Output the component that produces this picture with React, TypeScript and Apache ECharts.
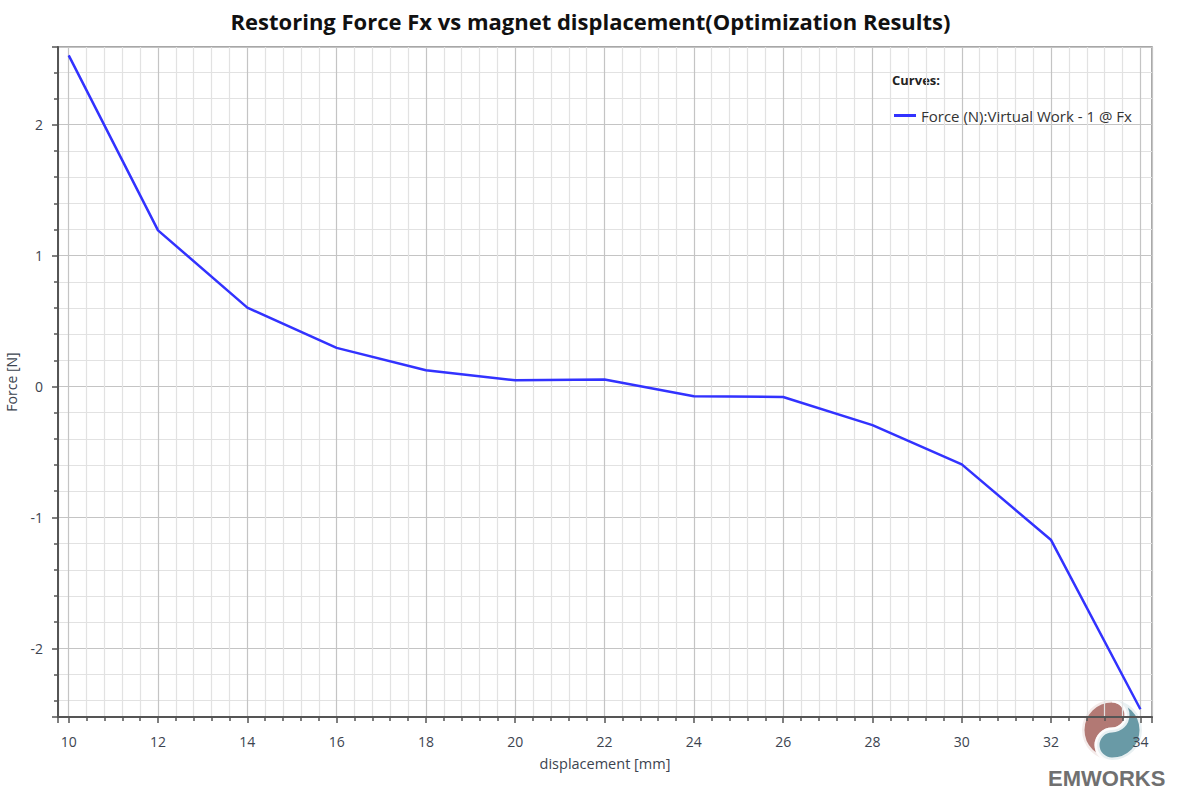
import React, { useEffect, useRef } from "react";
import * as echarts from "echarts";

const titleText = "Restoring Force Fx vs magnet displacement(Optimization Results)";
const seriesName = "Force (N):Virtual Work - 1 @ Fx";
const displacement = [10, 12, 14, 16, 18, 20, 22, 24, 26, 28, 30, 32, 34];
const force = [2.53, 1.193, 0.603, 0.295, 0.124, 0.048, 0.053, -0.074, -0.08, -0.295, -0.595, -1.173, -2.466];
const xAxisName = "displacement [mm]";
const yAxisName = "Force [N]";
const legendTitle = "Curves:";
const logoText = "EMWORKS";

echarts.graphic.registerShape(
  "logoRed",
  echarts.graphic.extendPath("M 0,-30 A 30 30 0 0 0 0,30 A 15 15 0 0 1 0,0 A 15 15 0 0 0 0,-30 Z", {})
);
echarts.graphic.registerShape(
  "logoTeal",
  echarts.graphic.extendPath("M 0,30 A 30 30 0 0 0 0,-30 A 15 15 0 0 1 0,0 A 15 15 0 0 0 0,30 Z", {})
);

export default function App() {
  const ref = useRef<HTMLDivElement>(null);
  useEffect(() => {
    if (!ref.current) return;
    const chart = echarts.init(ref.current, null, { renderer: "svg" });
    const font = "'Open Sans', 'Noto Sans', sans-serif";
    const labelColor = "#3c4450";
    chart.setOption({
      animation: false,
      backgroundColor: "#ffffff",
      textStyle: { fontFamily: font },
      title: {
        text: titleText,
        left: "center",
        top: 5,
        textStyle: { fontFamily: font, fontSize: 22, fontWeight: "bold", color: "#111" },
      },
      grid: {
        left: 58,
        top: 47,
        right: 29,
        bottom: 77,
        outerBoundsMode: "none",
        containLabel: false,
        show: true,
        borderColor: "#8a8a8a",
        borderWidth: 1.5,
        backgroundColor: "#ffffff",
      },
      legend: {
        show: true,
        data: [{ name: seriesName, icon: "rect" }],
        left: 889,
        top: 103,
        itemWidth: 22,
        itemHeight: 3,
        itemGap: 6,
        textStyle: { fontFamily: font, fontSize: 15, color: "#333" },
      },
      xAxis: {
        type: "value",
        min: 9.76,
        max: 34.26,
        splitNumber: 12,
        name: xAxisName,
        nameLocation: "middle",
        nameGap: 39,
        nameTextStyle: { fontFamily: font, fontSize: 14.5, color: labelColor },
        axisLine: { show: true, onZero: false, lineStyle: { color: "#555", width: 2 } },
        axisTick: { show: true, length: 6, lineStyle: { color: "#555", width: 1.5 } },
        minorTick: { show: true, splitNumber: 5, length: 4, lineStyle: { color: "#555", width: 1.5 } },
        axisLabel: {
          showMinLabel: false,
          showMaxLabel: false,
          margin: 17,
          fontFamily: font,
          fontSize: 14,
          color: labelColor,
        },
        splitLine: { show: true, lineStyle: { color: "#c4c4c4", width: 1.2 } },
        minorSplitLine: { show: true, lineStyle: { color: "#e2e2e2", width: 1.2 } },
      },
      yAxis: {
        type: "value",
        min: -2.525,
        max: 2.594,
        splitNumber: 5,
        name: yAxisName,
        nameLocation: "middle",
        nameGap: 40,
        nameRotate: 90,
        nameTextStyle: { fontFamily: font, fontSize: 14, color: labelColor },
        axisLine: { show: true, onZero: false, lineStyle: { color: "#555", width: 2 } },
        axisTick: { show: true, length: 6, lineStyle: { color: "#555", width: 1.5 } },
        minorTick: { show: true, splitNumber: 5, length: 4, lineStyle: { color: "#555", width: 1.5 } },
        axisLabel: {
          showMinLabel: false,
          showMaxLabel: false,
          margin: 15,
          fontFamily: font,
          fontSize: 14,
          color: labelColor,
        },
        splitLine: { show: true, lineStyle: { color: "#c4c4c4", width: 1.2 } },
        minorSplitLine: { show: true, lineStyle: { color: "#e2e2e2", width: 1.2 } },
      },
      series: [
        {
          name: seriesName,
          type: "line",
          data: displacement.map((x, i) => [x, force[i]]),
          showSymbol: false,
          symbol: "none",
          lineStyle: { color: "#3232ff", width: 2.5 },
          itemStyle: { color: "#3232ff" },
        },
      ],
      graphic: [
        {
          type: "text",
          left: 892,
          top: 73,
          style: { text: legendTitle, fontFamily: font, fontSize: 13, fontWeight: "bold", fill: "#222" },
        },
        {
          type: "logoRed",
          x: 1112,
          y: 730,
          rotation: 0,
          scaleX: 1,
          scaleY: 1,
          style: { fill: "#a4625c", opacity: 0.85, stroke: "#ffffff", lineWidth: 5 },
        },
        {
          type: "logoTeal",
          x: 1112,
          y: 730,
          rotation: 0,
          scaleX: 1,
          scaleY: 1,
          style: { fill: "#4f8896", opacity: 0.85, stroke: "#ffffff", lineWidth: 5 },
        },
        {
          type: "text",
          left: 1048,
          top: 767,
          style: { text: logoText, fontFamily: "'Liberation Sans', Arial, sans-serif", fontSize: 22, fontWeight: "bold", fill: "#707070" },
        },
      ],
    });
    return () => chart.dispose();
  }, []);
  return (
    <div
      ref={ref}
      style={{ position: "fixed", left: 0, top: 0, width: 1181, height: 794 }}
    />
  );
}
